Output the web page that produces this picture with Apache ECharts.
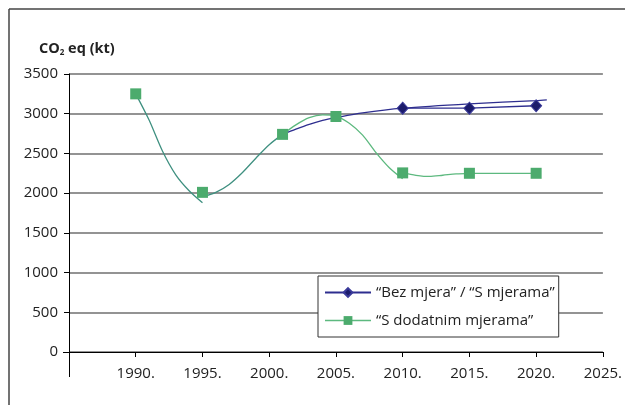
<!DOCTYPE html>
<html>
<head>
<meta charset="utf-8">
<script src="https://cdn.jsdelivr.net/npm/echarts@6/dist/echarts.min.js"></script>
<style>
html,body{margin:0;padding:0;background:#fff;}
#c{width:625px;height:405px;}
</style>
</head>
<body>
<div id="c"></div>
<script>
// ---- data ----
const xTickYears = [1990, 1995, 2000, 2005, 2010, 2015, 2020, 2025];
const yTicks = [0, 500, 1000, 1500, 2000, 2500, 3000, 3500];

const seriesNames = ['\u201cBez mjera\u201d / \u201cS mjerama\u201d', '\u201cS dodatnim mjerama\u201d'];

// marker series
const blueMarkerYears = [2010, 2015, 2020];
const blueMarkerValues = [3070, 3070, 3100];
const greenMarkerYears = [1990, 1995, 2001, 2005, 2010, 2015, 2020];
const greenMarkerValues = [3250, 2010, 2740, 2965, 2255, 2250, 2250];

// smoothed curve traces
const curveAYears = [1990, 1991, 1992, 1993, 1994, 1995];
const curveAValues = [3250, 2920, 2530, 2230, 2030, 1880];
const curveBYears = [1995, 1996, 1997, 1998, 1999, 2000, 2001];
const curveBValues = [1955, 2010, 2110, 2260, 2440, 2610, 2740];
const greenCurveYears = [2001, 2002, 2003, 2004, 2005, 2006, 2007, 2008, 2009, 2010];
const greenCurveValues = [2740, 2860, 2950, 2985, 2970, 2880, 2730, 2510, 2320, 2180];
const greenCurve2Years = [2010, 2011, 2012, 2013, 2014, 2015];
const greenCurve2Values = [2255, 2225, 2210, 2225, 2243, 2250];
const greenLineYears = [2015, 2020];
const greenLineValues = [2250, 2250];
const blueCurveYears = [2001, 2002, 2003, 2004, 2005, 2007, 2010, 2015, 2020, 2020.8];
const blueCurveValues = [2740, 2805, 2865, 2915, 2950, 3010, 3070, 3125, 3165, 3175];

const zip = (xs, ys) => xs.map((x, i) => [x, ys[i]]);

const BLUE = '#2e2e8f';
const NAVY = '#1c1c6b';
const GREEN_LINE = '#5db97f';
const GREEN_MARK = '#4cab6d';
const TEAL = '#3f9080';
const FONT = 'Open Sans';

const chart = echarts.init(document.getElementById('c'), null, {renderer: 'canvas'});

function curve(data, color, z) {
  return {
    type: 'line', data: data, smooth: 0.3, showSymbol: false, symbol: 'none',
    lineStyle: {color: color, width: 1.3}, itemStyle: {color: color},
    z: z || 2, silent: true, animation: false
  };
}

const option = {
  animation: false,
  backgroundColor: '#fff',
  textStyle: {fontFamily: FONT},
  title: {
    text: '{a|CO}{s|2}{a| eq (kt)}',
    left: 34, top: 36,
    textStyle: {
      rich: {
        a: {fontFamily: FONT, fontWeight: 'bold', fontSize: 14.5, color: '#222'},
        s: {fontFamily: FONT, fontWeight: 'bold', fontSize: 8, color: '#222', verticalAlign: 'bottom', padding: [8, 0, 0, 0]}
      }
    }
  },
  grid: {left: 69, right: 18, top: 74, bottom: 53, containLabel: false},
  legend: {
    orient: 'vertical',
    left: 318, top: 276,
    data: [
      {name: seriesNames[0]},
      {name: seriesNames[1], itemStyle: {color: GREEN_MARK}, lineStyle: {color: GREEN_LINE, opacity: 1, width: 1.3}}
    ],
    backgroundColor: '#fff',
    borderColor: '#333', borderWidth: 1,
    padding: [9, 4, 9, 6],
    itemWidth: 46, itemHeight: 11, itemGap: 13,
    textStyle: {fontFamily: FONT, fontSize: 15, color: '#222'}
  },
  xAxis: {
    type: 'value', min: 1985, max: 2025, interval: 5,
    axisLine: {show: true, onZero: false, lineStyle: {color: '#000', width: 1}},
    axisTick: {show: true, inside: false, length: 5, lineStyle: {color: '#000'}},
    splitLine: {show: false},
    axisLabel: {
      margin: 14, fontFamily: FONT, fontSize: 15, color: '#222',
      formatter: v => xTickYears.includes(v) ? v + '.' : ''
    }
  },
  yAxis: {
    type: 'value', min: yTicks[0], max: yTicks[yTicks.length - 1], interval: 500,
    axisLine: {show: true, lineStyle: {color: '#000', width: 1}},
    axisTick: {show: true, length: 5, lineStyle: {color: '#000'}},
    splitLine: {show: true, lineStyle: {color: '#6f6f6f', width: 1.5}},
    axisLabel: {margin: 11, fontFamily: FONT, fontSize: 15, color: '#222', formatter: v => String(v)}
  },
  series: [
    curve(zip(curveAYears, curveAValues), TEAL),
    curve(zip(curveBYears, curveBValues), TEAL),
    curve(zip(blueCurveYears, blueCurveValues), BLUE),
    curve(zip(greenCurveYears, greenCurveValues), GREEN_LINE),
    curve(zip(greenCurve2Years, greenCurve2Values), GREEN_LINE),
    {
      type: 'line', data: zip(greenLineYears, greenLineValues), symbol: 'none',
      lineStyle: {color: GREEN_LINE, width: 1.3}, silent: true, z: 2
    },
    {
      name: seriesNames[0], type: 'line', data: zip(blueMarkerYears, blueMarkerValues),
      symbol: 'diamond', symbolSize: [11, 12],
      itemStyle: {color: NAVY, borderColor: '#3a3a9a', borderWidth: 1},
      lineStyle: {color: BLUE, width: 1.3}, z: 5
    },
    {
      name: seriesNames[1], type: 'line', data: zip(greenMarkerYears, greenMarkerValues),
      symbol: 'rect', symbolSize: 11,
      itemStyle: {color: GREEN_MARK},
      lineStyle: {color: GREEN_LINE, width: 1.3, opacity: 0}, z: 6
    }
  ]
};
chart.setOption(option);

// decorative frame and axis overhang (Excel style)
const origin = chart.convertToPixel({gridIndex: 0}, [1985, 0]);
chart.setOption({
  graphic: [
    {type: 'line', shape: {x1: 9, y1: 9, x2: 625, y2: 9}, style: {stroke: '#444', lineWidth: 1.5}, silent: true},
    {type: 'line', shape: {x1: 9, y1: 9, x2: 9, y2: 405}, style: {stroke: '#444', lineWidth: 1.5}, silent: true},
    {type: 'line', shape: {x1: origin[0] + 0.5, y1: origin[1], x2: origin[0] + 0.5, y2: origin[1] + 25}, style: {stroke: '#000', lineWidth: 1}, silent: true},
    {type: 'line', shape: {x1: origin[0] - 6, y1: origin[1] + 0.5, x2: origin[0], y2: origin[1] + 0.5}, style: {stroke: '#000', lineWidth: 1}, silent: true}
  ]
});
</script>
</body>
</html>
